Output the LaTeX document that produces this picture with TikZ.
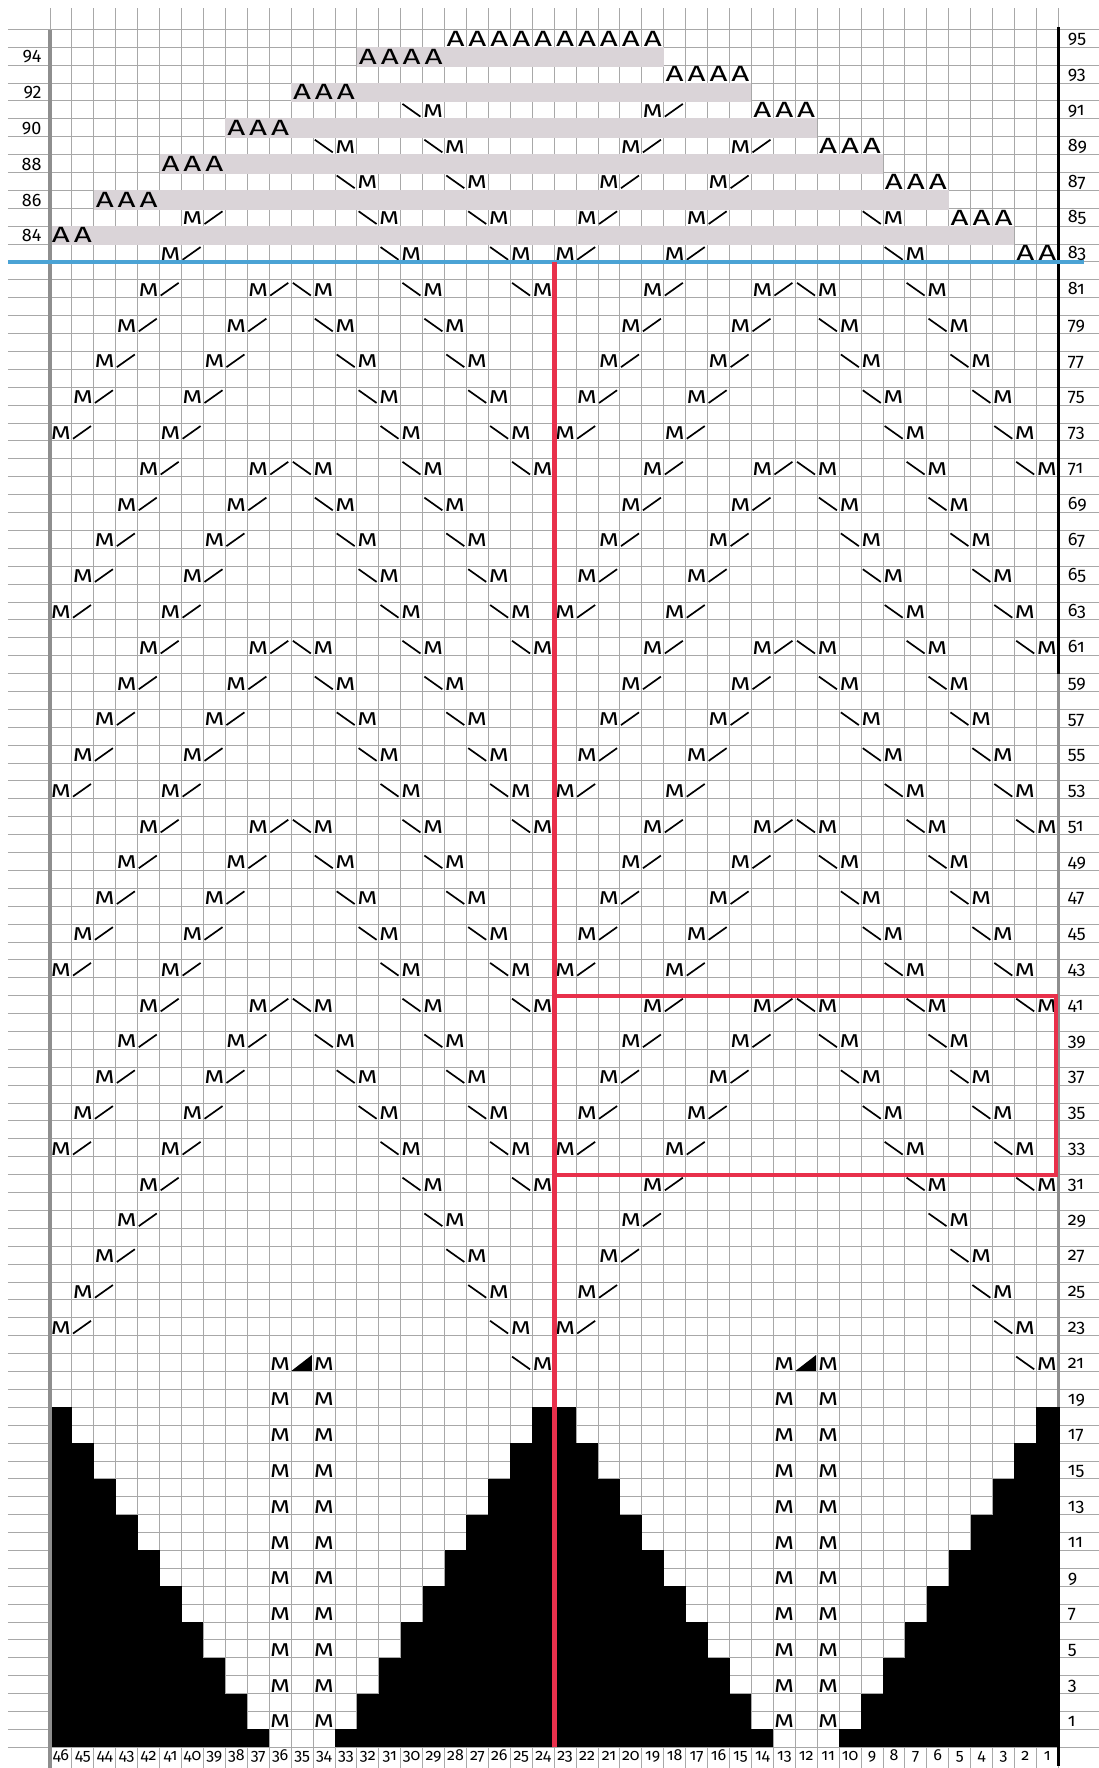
\documentclass[tikz,border=0pt]{standalone}
\usepackage{graphicx}
\usepackage{fontspec}
\setmainfont{Fira Sans}
\newfontfamily\oldfig[Numbers=OldStyle]{Fira Sans}

\definecolor{gridgrey}{HTML}{A8A8A8}
\definecolor{bandgrey}{HTML}{DAD4D8}
\definecolor{edgegrey}{HTML}{8E8E8E}
\definecolor{markblue}{HTML}{4BA3D5}
\definecolor{markred}{HTML}{E8304B}

\tikzset{
  msym/.style={anchor=south west,inner sep=0pt,outer sep=0pt},
  asym/.style={anchor=south,inner sep=0pt,outer sep=0pt},
  lean/.style={line width=0.85pt},
  gridline/.style={draw=gridgrey,line width=0.45pt},
  rowlabel/.style={anchor=base west,inner sep=0pt,font=\oldfig\fontsize{9}{9}\selectfont},
  evenlabel/.style={anchor=base east,inner sep=0pt,font=\fontsize{9}{9}\selectfont},
  collabel/.style={anchor=base,inner sep=0pt,font=\oldfig\fontsize{8}{8}\selectfont},
}

\newcommand{\Mglyph}{\resizebox{10pt}{6.4pt}{M}}
\newcommand{\Aglyph}{\resizebox{9pt}{7.6pt}{A}}

% M/ : M in column #1, stroke in the column to its right, row #2
\newcommand{\incR}[2]{%
  \node[msym] (m#1r#2) at ({46-#1+0.04},{#2+0.08}) {\Mglyph};
  \draw[lean] ({47-#1+0.05},{#2+0.12}) -- ++(0.82,0.71);}
% \M : stroke in column #1, M in the column to its right, row #2
\newcommand{\decL}[2]{%
  \draw[lean] ({46-#1+0.08},{#2+0.83}) -- ++(0.82,-0.71);
  \node[msym] (m#1r#2) at ({47-#1+0.02},{#2+0.08}) {\Mglyph};}

\begin{document}
\begin{tikzpicture}[x=10.96pt,y=8.948pt]
\useasboundingbox (-2.281,-1.157) rectangle (47.856,97.637);

% grid
\foreach \r in {0,...,96}
  \draw[gridline] (-1.916,\r) -- (47.856,\r);
\foreach \i in {0,...,46}
  \draw[gridline] (\i,-1.157) -- (\i,97.19);

% shaded rows of the crown
\foreach \r/\a/\b in {84/0/44,86/2/41,88/5/38,90/8/35,92/11/32,94/14/28}
  \fill[bandgrey] (\a,\r-0.08) rectangle (\b,\r+1.02);

% black stairs
\foreach \d in {2,...,11}{
  \pgfmathtruncatemacro\hgt{2*\d-3}
  \fill (11-\d,0) rectangle (12-\d,\hgt);
  \fill (11+\d,0) rectangle (12+\d,\hgt);
  \fill (34-\d,0) rectangle (35-\d,\hgt);
  \fill (34+\d,0) rectangle (35+\d,\hgt);
}

% pillars
\foreach \r in {1,3,...,21}
  \foreach \c in {36,34,13,11}
    \node[msym] (p\c r\r) at ({46-\c+0.04},{\r+0.08}) {\Mglyph};
\foreach \c in {35,12}
  \fill ({46-\c+0.02},21.04) -- ({46-\c+0.95},21.04) -- ({46-\c+0.95},21.92) -- cycle;

% diagonals from each apex
\foreach \a in {81,71,61,51,41}{
  \foreach \k in {0,...,9}{
    \pgfmathtruncatemacro\rw{\a-2*\k}
    \pgfmathtruncatemacro\cA{37+\k}
    \pgfmathtruncatemacro\cB{14+\k}
    \incR{\cA}{\rw}\incR{\cB}{\rw}
  }
  \foreach \k in {0,...,10}{
    \pgfmathtruncatemacro\rw{\a-2*\k}
    \pgfmathtruncatemacro\cA{35-\k}
    \pgfmathtruncatemacro\cB{12-\k}
    \decL{\cA}{\rw}\decL{\cB}{\rw}
  }
}
\foreach \k in {5,...,9}{
  \pgfmathtruncatemacro\rw{91-2*\k}
  \pgfmathtruncatemacro\cA{37+\k}
  \pgfmathtruncatemacro\cB{14+\k}
  \incR{\cA}{\rw}\incR{\cB}{\rw}
}
\foreach \k in {5,...,10}{
  \pgfmathtruncatemacro\rw{91-2*\k}
  \pgfmathtruncatemacro\cA{35-\k}
  \pgfmathtruncatemacro\cB{12-\k}
  \decL{\cA}{\rw}\decL{\cB}{\rw}
}
\decL{25}{81}

% crown
\foreach \c/\r in {41/83,23/83,18/83,40/85,22/85,17/85,21/87,16/87,20/89,15/89,19/91}
  {\incR{\c}{\r}}
\foreach \c/\r in {31/83,26/83,8/83,32/85,27/85,9/85,33/87,28/87,34/89,29/89,30/91}
  {\decL{\c}{\r}}
\foreach \r/\a/\b in {84/46/45,83/2/1,86/44/42,85/5/3,88/41/39,87/8/6,90/38/36,
    89/11/9,92/35/33,91/14/12,94/32/29,93/18/15,95/28/19}
  \foreach \c in {\a,...,\b}
    \node[asym] (a\c r\r) at ({46-\c+0.5},{\r+0.06}) {\Aglyph};

% frame
\draw[edgegrey,line width=1.6pt] (0,95.95) -- (0,-1.157);
\draw[line width=1.6pt] (46,96.1) -- (46,-1.05);
\draw[edgegrey,line width=1.6pt] (46,60) -- (46,19);
\draw[markblue,line width=2.2pt] (-1.916,83) -- (47.17,83);
\draw[markred,line width=2.4pt] (23,83) -- (23,0);
\draw[markred,line width=2pt] (23,42) rectangle (45.9,32);

% numbers
\foreach \r in {1,3,...,95}
  \node[rowlabel] (rl\r) at (46.42,\r+0.18) {\r};
\foreach \r in {84,86,...,94}
  \node[evenlabel] (el\r) at (-0.37,\r+0.12) {\r};
\foreach \i in {0,...,45}{
  \pgfmathtruncatemacro\c{46-\i}
  \node[collabel] (cl\c) at (\i+0.5,-0.72) {\c};
}
\end{tikzpicture}
\end{document}
